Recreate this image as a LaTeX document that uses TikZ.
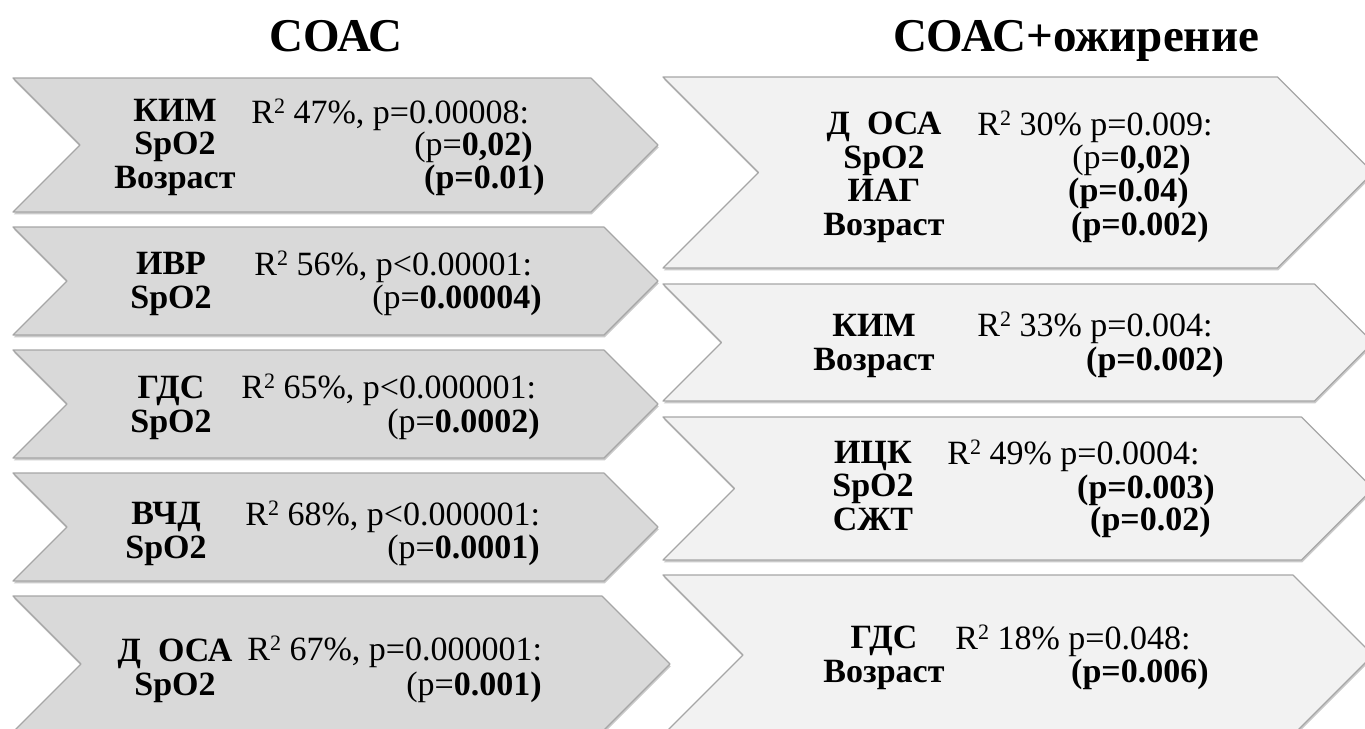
\documentclass[tikz,border=0pt]{standalone}
\usepackage{fontspec}
\setmainfont{Liberation Serif}
\usetikzlibrary{shadows}

\definecolor{boxdark}{HTML}{D9D9D9}
\definecolor{boxlight}{HTML}{F2F2F2}
\definecolor{boxline}{HTML}{A6A6A6}

\newcommand{\Rsq}{R\raisebox{.62ex}{\fontsize{11}{11}\selectfont 2}}

\begin{document}
\begin{tikzpicture}[x=0.5pt,y=-0.5pt,
    leftbox/.style={fill=boxdark, draw=boxline, line width=0.6pt, line join=round,
      drop shadow={shadow xshift=0.4pt, shadow yshift=-1.2pt, opacity=.35, fill=black!60}},
    rightbox/.style={leftbox, fill=boxlight},
    heading/.style={font=\fontsize{23.5}{24}\selectfont\bfseries, anchor=base},
    param/.style={font=\fontsize{17}{16.7}\selectfont\bfseries, align=center, anchor=base, inner sep=0pt},
    stat/.style={font=\fontsize{17}{16.7}\selectfont, anchor=base west, inner sep=0pt},
    pval/.style={font=\fontsize{17}{16.7}\selectfont, anchor=base east, inner sep=0pt}]

  \useasboundingbox (0,0) rectangle (1365,728);
  \clip (0,0) rectangle (1365,728);

  % chevrons: top / bottom / tip
  \foreach \ya/\yb/\xb in {78/212/658, 227/335/658, 350/458/658, 473/581/658, 596/732/670}{
    \pgfmathsetmacro\dd{(\yb-\ya)/2}
    \pgfmathsetmacro\ym{(\yb+\ya)/2}
    \draw[leftbox] (13,\ya) -- (\xb-\dd,\ya) -- (\xb,\ym) -- (\xb-\dd,\yb)
      -- (13,\yb) -- (13+\dd,\ym) -- cycle;
  }
  \foreach \ya/\yb in {77/268, 284/401, 417/560, 575/735}{
    \pgfmathsetmacro\dd{(\yb-\ya)/2}
    \pgfmathsetmacro\ym{(\yb+\ya)/2}
    \draw[rightbox] (663,\ya) -- (1373-\dd,\ya) -- (1373,\ym) -- (1373-\dd,\yb)
      -- (663,\yb) -- (663+\dd,\ym) -- cycle;
  }

  \node[heading] (t1) at (336,51) {СОАС};
  \node[heading] (t2) at (1076,51) {СОАС+ожирение};

  % left column (names sit on their last baseline)
  \node[param] (n1) at (175,188) {КИМ\\SpO2\\Возраст};
  \node[stat]  (s1) at (251,123) {\Rsq\ 47\%, p=0.00008:};
  \node[pval] (p1a) at (533,155) {(p=\textbf{0,02)}};
  \node[pval] (p1b) at (545,188) {\textbf{(p=0.01)}};

  \node[param] (n2) at (171,308) {ИВР\\SpO2};
  \node[stat]  (s2) at (254,275) {\Rsq\ 56\%, p<0.00001:};
  \node[pval]  (p2) at (542,308) {(p=\textbf{0.00004)}};

  \node[param] (n3) at (171,432) {ГДС\\SpO2};
  \node[stat]  (s3) at (241,398) {\Rsq\ 65\%, p<0.000001:};
  \node[pval]  (p3) at (540,432) {(p=\textbf{0.0002)}};

  \node[param] (n4) at (166,558) {ВЧД\\SpO2};
  \node[stat]  (s4) at (245,525) {\Rsq\ 68\%, p<0.000001:};
  \node[pval]  (p4) at (540,558) {(p=\textbf{0.0001)}};

  \node[param] (n5) at (175,695) {Д\ \ ОСА\\SpO2};
  \node[stat]  (s5) at (247,660) {\Rsq\ 67\%, p=0.000001:};
  \node[pval]  (p5) at (542,695) {(p=\textbf{0.001)}};

  % right column
  \node[param] (m1) at (884,235) {Д\ \ ОСА\\SpO2\\ИАГ\\Возраст};
  \node[stat]  (r1) at (977,135) {\Rsq\ 30\% p=0.009:};
  \node[pval] (q1a) at (1191,168) {(p=\textbf{0,02)}};
  \node[pval] (q1b) at (1189,201) {\textbf{(p=0.04)}};
  \node[pval] (q1c) at (1209,235) {\textbf{(p=0.002)}};

  \node[param] (m2) at (874,370) {КИМ\\Возраст};
  \node[stat]  (r2) at (977,336) {\Rsq\ 33\% p=0.004:};
  \node[pval]  (q2) at (1224,370) {\textbf{(p=0.002)}};

  \node[param] (m3) at (873,530) {ИЦК\\SpO2\\СЖТ};
  \node[stat]  (r3) at (947,464) {\Rsq\ 49\% p=0.0004:};
  \node[pval] (q3a) at (1215,498) {\textbf{(p=0.003)}};
  \node[pval] (q3b) at (1211,530) {\textbf{(p=0.02)}};

  \node[param] (m4) at (884,682) {ГДС\\Возраст};
  \node[stat]  (r4) at (955,649) {\Rsq\ 18\% p=0.048:};
  \node[pval]  (q4) at (1209,682) {\textbf{(p=0.006)}};

\end{tikzpicture}
\end{document}
